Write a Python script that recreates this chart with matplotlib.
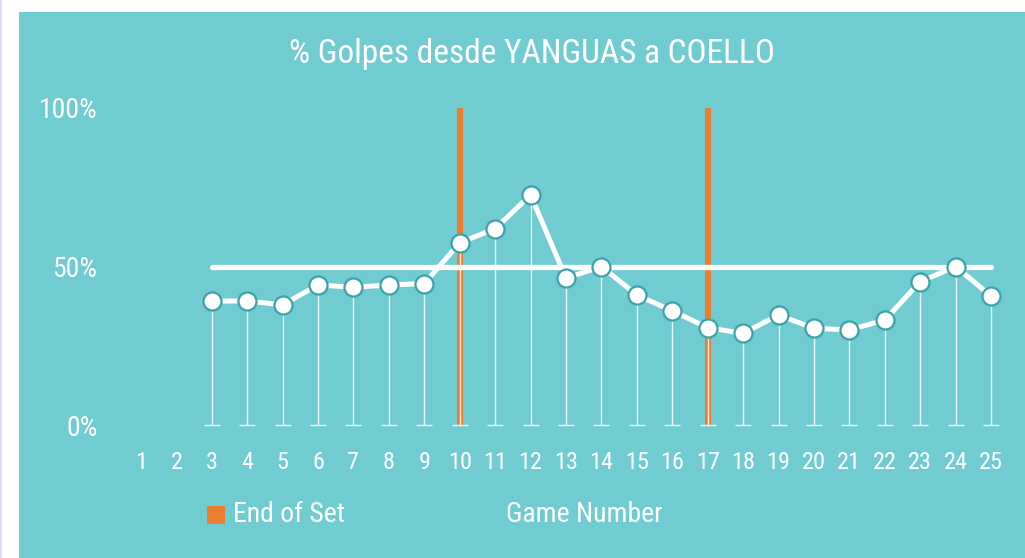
import matplotlib
matplotlib.use("Agg")
import matplotlib.pyplot as plt
from matplotlib import font_manager as fm
from matplotlib.patches import Rectangle

# ---- data ----
games = [3, 4, 5, 6, 7, 8, 9, 10, 11, 12, 13, 14, 15, 16, 17, 18, 19, 20, 21, 22, 23, 24, 25]
pct = [39.1, 39.1, 37.9, 44.2, 43.4, 44.2, 44.6, 57.5, 61.9, 72.6, 46.3, 50.0, 41.0,
       36.0, 30.7, 28.9, 34.7, 30.5, 30.0, 33.1, 45.2, 50.0, 40.7]
x_ticks = list(range(1, 26))
y_ticks = [0, 50, 100]
y_tick_labels = ["0%", "50%", "100%"]
set_ends = [10, 17]
set_end_height = [100, 100]
ref_games = [3, 25]
ref_level = [50, 50]
title = "% Golpes desde YANGUAS a COELLO"

# ---- font ----
available = {f.name for f in fm.fontManager.ttflist}
font = "DejaVu Sans"
for cand in ["Roboto Condensed", "Barlow Semi Condensed", "Archivo Narrow", "PT Sans Narrow"]:
    if cand in available:
        font = cand
        break
plt.rcParams['font.family'] = [font, 'DejaVu Sans']
plt.rcParams['font.weight'] = 'normal'

TEAL = "#70CCD1"
EDGE = "#3AA2A8"
ORANGE = "#ED7D31"
W, H = 1025, 558

fig = plt.figure(figsize=(W / 100, H / 100), dpi=100)
fig.patch.set_facecolor("white")
fig.patches.append(Rectangle((19 / W, 0), 1 - 19 / W, 1 - 12 / H, transform=fig.transFigure,
                             facecolor=TEAL, edgecolor="none", zorder=-5))
fig.patches.append(Rectangle((0, 0), 2 / W, 1, transform=fig.transFigure,
                             facecolor="#DCE0F2", edgecolor="none", zorder=-5))

# axes in pixel geometry
L, R, B, T = 110, 1010, 425, 108
ax = fig.add_axes([L / W, 1 - B / H, (R - L) / W, (B - T) / H])
ax.set_facecolor("none")
ax.set_zorder(1)
px = 35.417
ax.set_xlim(1 - (141 - L) / px, 25 + (R - 991) / px)
ax.set_ylim(0, 100)
for s in ax.spines.values():
    s.set_visible(False)

# orange end-of-set bars
ax.bar(set_ends, set_end_height, width=6 / px, color=ORANGE, zorder=1)
# drop lines with caps
ax.vlines(games, 0, pct, color="white", lw=1.0, alpha=0.85, zorder=2)
ax.plot(games, [0] * len(games), linestyle="none", marker="_", markersize=12,
        markeredgewidth=1.0, color="white", alpha=0.85, zorder=2, clip_on=False)
# 50% reference line
ax.plot(ref_games, ref_level, color="white", lw=3.8, solid_capstyle="round", zorder=3)
# series
ax.plot(games, pct, color="white", lw=3.6, zorder=4, marker="o", markersize=13,
        markerfacecolor="white", markeredgecolor=EDGE, markeredgewidth=1.6,
        solid_joinstyle="round", clip_on=False)

ax.set_xticks(x_ticks)
ax.set_xticklabels([str(v) for v in x_ticks])
ax.set_yticks(y_ticks)
ax.set_yticklabels(y_tick_labels)
ax.tick_params(axis="both", length=0, colors="white")
ax.tick_params(axis="x", labelsize=17.5, pad=19)
ax.tick_params(axis="y", labelsize=20, pad=9)

fig.text(532 / W, 1 - 54 / H, title, color="white", fontsize=24, ha="center", va="center")

# legend-like annotations
fig.patches.append(Rectangle((207 / W, 1 - 524 / H), 18 / W, 18 / H, transform=fig.transFigure,
                             facecolor=ORANGE, edgecolor="none", zorder=5))
fig.text(233 / W, 1 - 515 / H, "End of Set", color="white", fontsize=20, ha="left", va="center")
fig.text(506 / W, 1 - 515 / H, "Game Number", color="white", fontsize=20, ha="left", va="center")

fig.savefig("out.png", dpi=100, facecolor=fig.get_facecolor())
